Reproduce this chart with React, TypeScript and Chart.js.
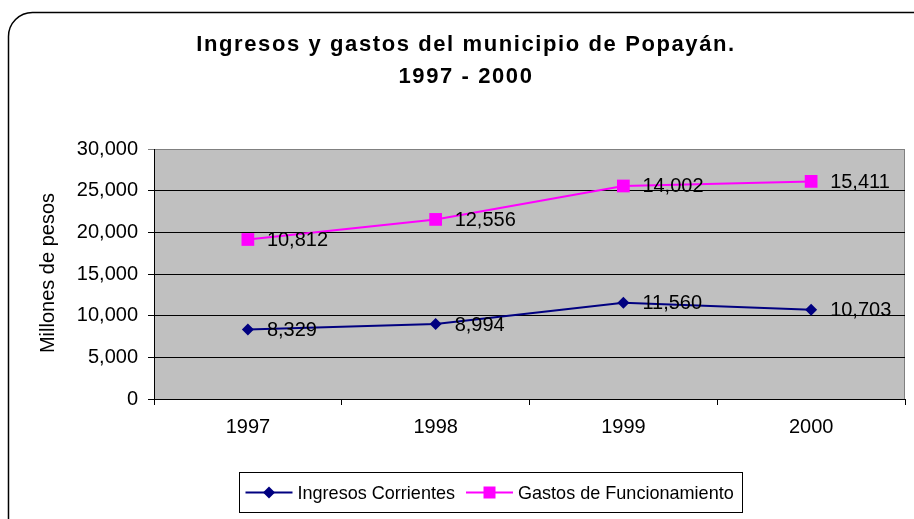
import React, { useEffect, useRef } from "react";
import { Chart, registerables } from "chart.js";

Chart.register(...registerables);

const years = ["1997", "1998", "1999", "2000"];
const ingresosCorrientes = [8329, 8994, 11560, 10703];
const gastosFuncionamiento = [10812, 12556, 14002, 15411];
const seriesNames = ["Ingresos Corrientes", "Gastos de Funcionamiento"];
const titleLines = ["Ingresos y gastos del municipio de Popayán.", "1997 - 2000"];
const yAxisTitle = "Millones de pesos";
const yMin = 0;
const yMax = 30000;
const yStep = 5000;

const FONT = "'Liberation Sans', Arial, sans-serif";
const NAVY = "#000080";
const MAGENTA = "#FF00FF";

const fmt = (v: number) => Number(v).toLocaleString("en-US");

const decorPlugin = {
  id: "decor",
  beforeDraw(chart: any) {
    const { ctx, chartArea } = chart;
    ctx.save();
    ctx.fillStyle = "#ffffff";
    ctx.fillRect(0, 0, chart.width, chart.height);
    // outer rounded border
    ctx.beginPath();
    ctx.strokeStyle = "#000000";
    ctx.lineWidth = 1.5;
    ctx.roundRect(8.5, 12.5, 930, 530, 24);
    ctx.stroke();
    // plot background
    ctx.fillStyle = "#C0C0C0";
    ctx.fillRect(chartArea.left, chartArea.top, chartArea.right - chartArea.left, chartArea.bottom - chartArea.top);
    ctx.strokeStyle = "#808080";
    ctx.lineWidth = 1;
    ctx.beginPath();
    ctx.moveTo(chartArea.left, chartArea.top + 0.5);
    ctx.lineTo(chartArea.right - 0.5, chartArea.top + 0.5);
    ctx.lineTo(chartArea.right - 0.5, chartArea.bottom);
    ctx.stroke();
    // title
    ctx.fillStyle = "#000";
    ctx.font = `bold 22px ${FONT}`;
    ctx.textAlign = "center";
    ctx.textBaseline = "middle";
    (ctx as any).letterSpacing = "1.6px";
    ctx.fillText(titleLines[0], 466, 45);
    ctx.fillText(titleLines[1], 466, 77);
    (ctx as any).letterSpacing = "0px";
    // y axis title
    ctx.save();
    ctx.translate(48, 273);
    ctx.rotate(-Math.PI / 2);
    ctx.font = `20px ${FONT}`;
    ctx.fillText(yAxisTitle, 0, 0);
    ctx.restore();
    ctx.restore();
  },
  afterDraw(chart: any) {
    const { ctx } = chart;
    ctx.save();
    // data labels
    ctx.font = `20px ${FONT}`;
    ctx.fillStyle = "#000";
    ctx.textAlign = "left";
    ctx.textBaseline = "middle";
    chart.data.datasets.forEach((ds: any, di: number) => {
      const meta = chart.getDatasetMeta(di);
      meta.data.forEach((pt: any, i: number) => {
        ctx.fillText(fmt(ds.data[i]), pt.x + 19, pt.y + 1);
      });
    });
    // legend
    const boxX = 239.5, boxY = 472.5, boxH = 40, boxW = 503;
    const cy = boxY + boxH / 2;
    const textScale = 0.95;
    ctx.font = `19px ${FONT}`;
    let x = boxX + 6;
    const items = chart.data.datasets.map((ds: any) => ({
      label: ds.label,
      color: ds.borderColor,
      style: ds.pointStyle,
    }));
    items.forEach((it: any) => {
      const lineLen = 47;
      ctx.strokeStyle = it.color;
      ctx.lineWidth = 2;
      ctx.beginPath();
      ctx.moveTo(x, cy);
      ctx.lineTo(x + lineLen, cy);
      ctx.stroke();
      ctx.fillStyle = it.color;
      const mx = x + lineLen / 2;
      ctx.beginPath();
      if (it.style === "rectRot") {
        ctx.moveTo(mx - 6, cy);
        ctx.lineTo(mx, cy - 6);
        ctx.lineTo(mx + 6, cy);
        ctx.lineTo(mx, cy + 6);
        ctx.closePath();
      } else {
        ctx.rect(mx - 6, cy - 6, 12, 12);
      }
      ctx.fill();
      ctx.fillStyle = "#000";
      const tx = x + lineLen + 5;
      ctx.save();
      ctx.translate(tx, cy + 1);
      ctx.scale(textScale, 1);
      ctx.fillText(it.label, 0, 0);
      ctx.restore();
      x = tx + ctx.measureText(it.label).width * textScale + 11;
    });
    ctx.strokeStyle = "#000";
    ctx.lineWidth = 1;
    ctx.strokeRect(boxX, boxY, boxW, boxH);
    ctx.restore();
  },
};

export default function App() {
  const ref = useRef<HTMLCanvasElement | null>(null);
  useEffect(() => {
    if (!ref.current) return;
    const chart = new Chart(ref.current, {
      type: "line",
      data: {
        labels: years,
        datasets: [
          {
            label: seriesNames[0],
            data: ingresosCorrientes,
            borderColor: NAVY,
            backgroundColor: NAVY,
            borderWidth: 2,
            pointStyle: "rectRot",
            pointRadius: 6,
            pointBorderWidth: 0,
            tension: 0,
            fill: false,
          },
          {
            label: seriesNames[1],
            data: gastosFuncionamiento,
            borderColor: MAGENTA,
            backgroundColor: MAGENTA,
            borderWidth: 2,
            pointStyle: "rect",
            pointRadius: 9,
            pointBorderWidth: 0,
            tension: 0,
            fill: false,
          },
        ],
      },
      options: {
        animation: false,
        responsive: false,
        devicePixelRatio: 1,
        layout: { padding: { top: 149, left: 0, right: 9, bottom: 80 } },
        plugins: {
          legend: { display: false },
          title: { display: false },
          tooltip: { enabled: false },
        },
        scales: {
          x: {
            type: "category",
            offset: true,
            grid: {
              offset: true,
              drawOnChartArea: false,
              drawTicks: true,
              tickLength: 6,
              color: "#000",
            },
            border: { display: true, color: "#000", width: 1 },
            ticks: { font: { family: FONT, size: 20 }, color: "#000", padding: 10, maxRotation: 0 },
            afterFit: (s: any) => {
              s.height = 40;
            },
          },
          y: {
            stacked: true,
            min: yMin,
            max: yMax,
            grid: {
              color: (c: any) => (c.tick && c.tick.value === yMax ? "#808080" : "#000"),
              lineWidth: 1,
              drawTicks: true,
              tickLength: 6,
            },
            border: { display: true, color: "#000", width: 1 },
            ticks: {
              stepSize: yStep,
              font: { family: FONT, size: 20 },
              color: "#000",
              padding: 10,
              callback: (v: any) => fmt(v),
            },
            afterFit: (s: any) => {
              s.width = 154;
            },
          },
        },
      },
      plugins: [decorPlugin],
    } as any);
    return () => chart.destroy();
  }, []);
  return (
    <div style={{ position: "absolute", left: 0, top: 0, width: 914, height: 519, overflow: "hidden", background: "#fff" }}>
      <canvas ref={ref} width={914} height={519} style={{ width: 914, height: 519, display: "block" }} />
    </div>
  );
}
